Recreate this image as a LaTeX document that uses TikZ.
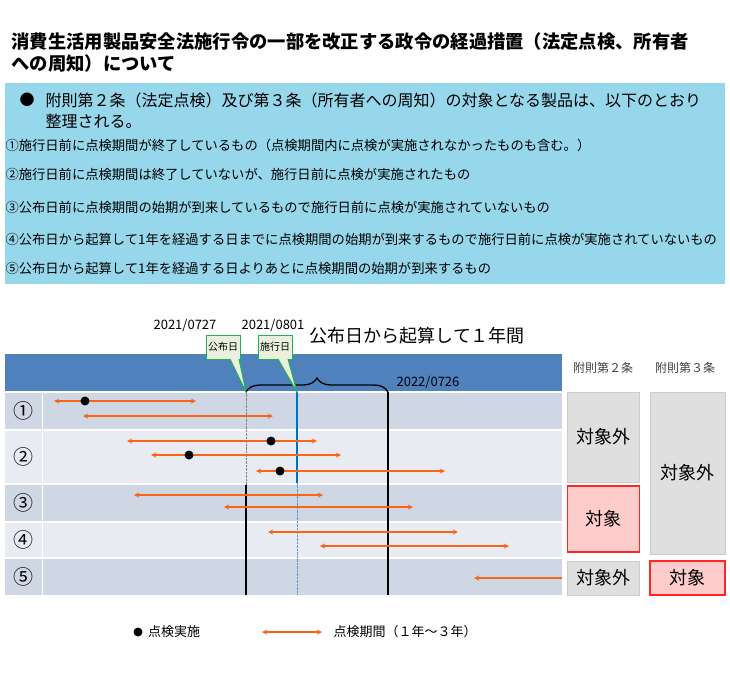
\documentclass[tikz,border=0pt]{standalone}
\usepackage{fontspec}
\setmainfont{Noto Sans CJK JP}
\usetikzlibrary{positioning,decorations.pathreplacing}
\definecolor{band}{RGB}{79,129,189}
\definecolor{rowdark}{RGB}{207,214,228}
\definecolor{rowlight}{RGB}{232,236,242}
\definecolor{panel}{RGB}{150,215,235}
\definecolor{period}{RGB}{250,100,20}
\definecolor{effblue}{RGB}{0,112,192}
\definecolor{callfill}{RGB}{235,240,222}
\definecolor{callline}{RGB}{30,180,80}
\tikzset{
  span/.style={draw=period, line width=1.3pt, <->, >=stealth},
  chk/.style={circle, fill=black, inner sep=0pt, minimum size=9pt},
  nobox/.style={draw=gray!40, fill=gray!25, font=\fontsize{18}{20}\selectfont},
  yesbox/.style={draw=red!85, line width=1.2pt, fill=red!20, font=\fontsize{18}{20}\selectfont},
  item/.style={anchor=west, font=\fontsize{13.3}{15}\selectfont},
  callout/.style={draw=callline, line width=1pt, fill=callfill, font=\fontsize{10}{12}\selectfont, minimum height=24pt, inner sep=2pt}
}
\begin{document}
\begin{tikzpicture}[x=1pt,y=1pt,yscale=-1]
    \useasboundingbox (0,0) rectangle (730,678);
    %title and notes
    \node[anchor=west, font=\bfseries\fontsize{18.3}{20}\selectfont] (title1) at (8,42) {消費生活用製品安全法施行令の一部を改正する政令の経過措置（法定点検、所有者};
    \node[anchor=west, font=\bfseries\fontsize{18.3}{20}\selectfont] (title2) at (8,64) {への周知）について};
    \fill[panel] (5,83) rectangle (725,284);
    \node[anchor=west, font=\fontsize{15}{17}\selectfont] (bullet) at (16,100) {●};
    \node[anchor=west, font=\fontsize{16}{18}\selectfont] (lead1) at (42,100) {附則第２条（法定点検）及び第３条（所有者への周知）の対象となる製品は、以下のとおり};
    \node[anchor=west, font=\fontsize{16}{18}\selectfont] (lead2) at (42,121) {整理される。};
    \node[item] (n1) at (2,145) {①施行日前に点検期間が終了しているもの（点検期間内に点検が実施されなかったものも含む。）};
    \node[item] (n2) at (2,174) {②施行日前に点検期間は終了していないが、施行日前に点検が実施されたもの};
    \node[item] (n3) at (2,207) {③公布日前に点検期間の始期が到来しているもので施行日前に点検が実施されていないもの};
    \node[item] (n4) at (2,239) {④公布日から起算して1年を経過する日までに点検期間の始期が到来するもので施行日前に点検が実施されていないもの};
    \node[item] (n5) at (2,268) {⑤公布日から起算して1年を経過する日よりあとに点検期間の始期が到来するもの};

    %chart rows
    \fill[band] (5,354) rectangle (562,391);
    \fill[rowdark] (5,393) rectangle (562,429);
    \fill[rowlight] (5,431) rectangle (562,483);
    \fill[rowdark] (5,485) rectangle (562,521);
    \fill[rowlight] (5,523) rectangle (562,557);
    \fill[rowdark] (5,559) rectangle (562,595);
    \draw[white, line width=1pt] (42,393) -- (42,595);
    \foreach \lbl/\yy in {①/411, ②/457, ③/503, ④/540, ⑤/577}
      \node[font=\fontsize{20}{22}\selectfont] at (23,\yy) {\lbl};

    %date lines
    \coordinate (pub) at (246,392);
    \coordinate (eff) at (297,392);
    \coordinate (end) at (388,392);
    \draw[gray, densely dotted] (pub) -- (246,485);
    \draw[line width=1.6pt] (246,485) -- (246,595);
    \draw[effblue, line width=1.8pt] (eff) -- (297,483);
    \draw[effblue!70, densely dotted] (297,483) -- (297,595);
    \draw[line width=1.6pt] (end) -- (388,595);
    \draw[decorate, decoration={brace, amplitude=14pt}, line width=1.3pt] (pub) -- (end);

    %periods
    \foreach \xa/\xb/\yy in {54/196/401, 83/273/416, 127/317/441, 151/341/455, 256/445/471,
        134/323/495, 224/413/507, 268/458/532, 320/509/546}
      \draw[span] (\xa,\yy) -- (\xb,\yy);
    \draw[draw=period, line width=1.3pt, ->, >=stealth] (562,578) -- (474,578);
    \foreach \xx/\yy in {85/401, 271/441, 189/455, 280/471}
      \node[chk] at (\xx,\yy) {};

    %labels
    \node[font=\fontsize{13}{15}\selectfont] (d1) at (185,325) {2021/0727};
    \node[font=\fontsize{13}{15}\selectfont] (d2) at (273,325) {2021/0801};
    \node[anchor=west, font=\fontsize{18}{20}\selectfont] (span) at (306,336) {公布日から起算して１年間};
    \node[font=\fontsize{13}{15}\selectfont] (d3) at (428,382) {2022/0726};
    \node[callout] (pubc) at (223,347) {公布日};
    \node[callout] (effc) at (275,347) {施行日};
    \draw[callline, line width=1pt, fill=callfill] (230,359) -- (pub) -- (239,359);
    \draw[callline, line width=1pt, fill=callfill] (278,359) -- (eff) -- (288,359);

    %right boxes
    \node[font=\fontsize{12}{14}\selectfont, gray!50!black] (h2) at (603,368) {附則第２条};
    \node[font=\fontsize{12}{14}\selectfont, gray!50!black] (h3) at (685,368) {附則第３条};
    \node[nobox, minimum width=72pt, minimum height=90pt] (a2) at (603.5,437) {対象外};
    \node[yesbox, minimum width=72pt, minimum height=66pt] (b2) at (603.5,519) {対象};
    \node[nobox, minimum width=72pt, minimum height=34pt] (c2) at (603.5,578) {対象外};
    \node[nobox, minimum width=75pt, minimum height=162pt] (a3) at (687.5,473) {対象外};
    \node[yesbox, minimum width=75pt, minimum height=34pt] (b3) at (687.5,578) {対象};

    %legend
    \node[chk] (ldot) at (138,632) {};
    \node[anchor=west, font=\fontsize{13}{15}\selectfont, right=2pt of ldot] (ltxt) {点検実施};
    \coordinate (la) at (262,632);
    \coordinate (lb) at (322,632);
    \draw[span] (la) -- (lb);
    \node[anchor=west, font=\fontsize{13}{15}\selectfont, right=8pt of lb] (ltxt2) {点検期間（１年～３年）};
\end{tikzpicture}
\end{document}
